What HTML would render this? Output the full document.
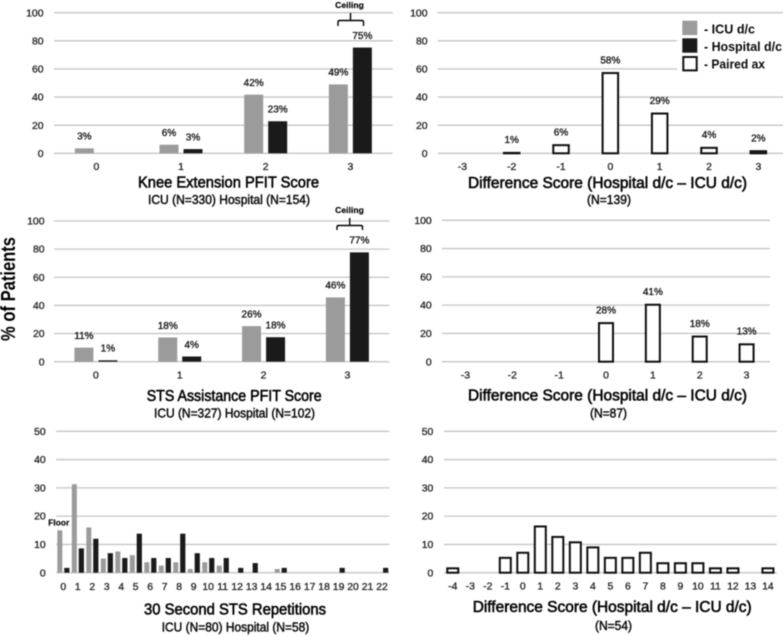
<!DOCTYPE html>
<html lang="en">
<head>
<meta charset="utf-8">
<title>PFIT score and STS distributions</title>
<style>
html,body{margin:0;padding:0;background:#fff;width:784px;height:636px;overflow:hidden}
svg{display:block;filter:blur(.45px)}
text{font-family:"Liberation Sans",sans-serif}
.title{font-size:16px;fill:#050505;stroke:#050505;stroke-width:.6px}
.sub{font-size:12.5px;fill:#0a0a0a;stroke:#0a0a0a;stroke-width:.45px}
.tick{font-size:10.4px;fill:#2a2a2a;stroke:#2a2a2a;stroke-width:.35px}
.val{font-size:10px;fill:#1a1a1a;stroke:#1a1a1a;stroke-width:.35px}
.note{font-size:8.6px;font-weight:bold;fill:#000;stroke:#000;stroke-width:.15px}
.leg{font-size:12.5px;font-weight:bold;fill:#0a0a0a}
</style>
</head>
<body>
<svg id="chart" xmlns="http://www.w3.org/2000/svg" width="784" height="636" viewBox="0 0 784 636">
  <rect width="784" height="636" fill="#fff"/>
  <g id="marks"></g>

  <text class="title" x="138" y="187.7" textLength="181" lengthAdjust="spacingAndGlyphs">Knee Extension PFIT Score</text>
  <text class="sub" x="148" y="204" textLength="162" lengthAdjust="spacingAndGlyphs">ICU (N=330) Hospital (N=154)</text>
  <text class="title" x="468" y="188" textLength="279" lengthAdjust="spacingAndGlyphs">Difference Score (Hospital d/c – ICU d/c)</text>
  <text class="sub" x="587" y="204" textLength="44" lengthAdjust="spacingAndGlyphs">(N=139)</text>

  <text class="title" x="146.7" y="401" textLength="175" lengthAdjust="spacingAndGlyphs">STS Assistance PFIT Score</text>
  <text class="sub" x="154" y="417.7" textLength="161" lengthAdjust="spacingAndGlyphs">ICU (N=327) Hospital (N=102)</text>
  <text class="title" x="468" y="400.7" textLength="279" lengthAdjust="spacingAndGlyphs">Difference Score (Hospital d/c – ICU d/c)</text>
  <text class="sub" x="590" y="417.7" textLength="37" lengthAdjust="spacingAndGlyphs">(N=87)</text>

  <text class="title" x="144" y="614.3" textLength="182" lengthAdjust="spacingAndGlyphs">30 Second STS Repetitions</text>
  <text class="sub" x="161.7" y="631.7" textLength="147.6" lengthAdjust="spacingAndGlyphs">ICU (N=80) Hospital (N=58)</text>
  <text class="title" x="472.7" y="612" textLength="279" lengthAdjust="spacingAndGlyphs">Difference Score (Hospital d/c – ICU d/c)</text>
  <text class="sub" x="595" y="630" textLength="37" lengthAdjust="spacingAndGlyphs">(N=54)</text>

  <text transform="translate(15,341) rotate(-90)" font-size="20" font-weight="bold" fill="#000" textLength="104" lengthAdjust="spacingAndGlyphs">% of Patients</text>

  <g>
    <text class="note" x="349.5" y="8" text-anchor="middle">Ceiling</text>
    <path d="M338 26V22Q338 20.5 340 20.5H361.5Q363.5 20.5 363.5 22V26M350.5 13V20.5" fill="none" stroke="#000" stroke-width="1.4"/>
  </g>
  <g>
    <text class="note" x="349.5" y="213" text-anchor="middle">Ceiling</text>
    <path d="M337 230V227Q337 225.5 339 225.5H360.5Q362.5 225.5 362.5 227V230M349.7 218V225.5" fill="none" stroke="#000" stroke-width="1.4"/>
  </g>
  <text class="note" x="48.3" y="525.7" textLength="21" lengthAdjust="spacingAndGlyphs">Floor</text>

  <g>
    <rect x="677" y="13.5" width="107" height="59" fill="#fff"/>
    <rect x="682.3" y="20.7" width="15" height="14.4" fill="#9b9b9b"/>
    <text class="leg" x="704" y="33.3" textLength="51" lengthAdjust="spacingAndGlyphs">- ICU d/c</text>
    <rect x="682.3" y="38.3" width="15" height="14.4" fill="#1a1a1a"/>
    <text class="leg" x="704" y="51" textLength="78" lengthAdjust="spacingAndGlyphs">- Hospital d/c</text>
    <rect x="683.3" y="57" width="13.4" height="13.4" fill="#fff" stroke="#111" stroke-width="2"/>
    <text class="leg" x="704" y="68.3" textLength="61" lengthAdjust="spacingAndGlyphs">- Paired ax</text>
  </g>
</svg>
<script>
/* ---------- chart data ---------- */
const pfitCategories = ["0", "1", "2", "3"];
const pctTicks = [0, 20, 40, 60, 80, 100];
const repTicks = [0, 10, 20, 30, 40, 50];

const kneeIcu = [3.5, 6.1, 41.7, 49];
const kneeHospital = [0, 3, 22.8, 75.2];
const kneeIcuLabels = ["3%", "6%", "42%", "49%"];
const kneeHospitalLabels = ["", "3%", "23%", "75%"];

const diffCategories = ["-3", "-2", "-1", "0", "1", "2", "3"];
const kneeDiff = [0, 1, 6.5, 57.8, 29, 4.6, 2.2];
const kneeDiffLabels = ["", "1%", "6%", "58%", "29%", "4%", "2%"];

const stsIcu = [10, 17.2, 25.3, 45.7];
const stsHospital = [1, 3.7, 17.4, 77.7];
const stsIcuLabels = ["11%", "18%", "26%", "46%"];
const stsHospitalLabels = ["1%", "4%", "18%", "77%"];

const stsDiff = [0, 0, 0, 28, 41, 18.5, 13];
const stsDiffLabels = ["", "", "", "28%", "41%", "18%", "13%"];

const repCategories = ["0","1","2","3","4","5","6","7","8","9","10","11","12","13","14","15","16","17","18","19","20","21","22"];
const repIcu = [15, 31.3, 16, 5, 7.5, 6.2, 3.7, 2.5, 3.7, 1.3, 3.7, 2.5, 0, 0, 0, 1.3, 0, 0, 0, 0, 0, 0, 0];
const repHospital = [1.7, 8.6, 12, 6.9, 5.2, 13.8, 5.2, 5.2, 13.8, 6.9, 5.2, 5.2, 1.7, 3.4, 0, 1.7, 0, 0, 0, 1.7, 0, 0, 1.7];

const repDiffCategories = ["-4","-3","-2","-1","0","1","2","3","4","5","6","7","8","9","10","11","12","13","14"];
const repDiff = [1.9, 0, 0, 5.6, 7.4, 16.7, 13, 11.1, 9.3, 5.6, 5.6, 7.4, 3.7, 3.7, 3.7, 1.9, 1.9, 0, 1.9];

/* ---------- drawing ---------- */
const NS = "http://www.w3.org/2000/svg";
const root = document.getElementById("marks");

function make(tag, attrs, parent) {
  const el = document.createElementNS(NS, tag);
  for (const k in attrs) el.setAttribute(k, attrs[k]);
  parent.appendChild(el);
  return el;
}

function drawPanel(name, box, categories, ticks, series) {
  const g = make("g", {}, root);
  
  

  const maxTick = ticks[ticks.length - 1];
  const yScale = v => box.y0 - (v / maxTick) * (box.y0 - box.yTop);
  const band = (box.x1 - box.x0) / categories.length;
  const xCenter = i => box.x0 + band * (i + 0.5);

  ticks.forEach(t => {
    const line = make("line", {x1: box.x0, x2: box.x1, y1: yScale(t), y2: yScale(t), stroke: "#c6c6c6", "stroke-width": 1.3}, g);
    
    
    const label = make("text", {x: box.tickRight, y: yScale(t) + 3.6, "text-anchor": "end", class: "tick"}, g);
    
    
    label.textContent = t;
  });

  categories.forEach((c, i) => {
    const label = make("text", {x: xCenter(i), y: box.tickY, "text-anchor": "middle", class: "tick"}, g);
    
    
    label.textContent = c;
  });

  series.forEach(s => {
    s.values.forEach((v, i) => {
      if (!v) return;
      const cx = xCenter(i) + s.offset;
      const top = yScale(v);
      if (s.outline) {
        const bar = make("rect", {x: cx - s.width / 2 + 1, y: top + 1, width: s.width - 2, height: Math.max(0, box.y0 - top - 1), fill: "#fff", stroke: "#0d0d0d", "stroke-width": 2}, g);
        
        
      } else {
        const bar = make("rect", {x: cx - s.width / 2, y: top, width: s.width, height: box.y0 - top, fill: s.fill}, g);
        
        
      }
      if (s.labels && s.labels[i]) {
        const label = make("text", {x: cx, y: top - 8.7, "text-anchor": "middle", class: "val"}, g);
        
        
        label.textContent = s.labels[i];
      }
    });
  });
}

const GRAY = "#9b9b9b";
const DARK = "#1a1a1a";

drawPanel("knee", {x0: 54, x1: 392.7, y0: 153.3, yTop: 12.7, tickRight: 43.5, tickY: 170}, pfitCategories, pctTicks, [
  {key: "icu", values: kneeIcu, labels: kneeIcuLabels, fill: GRAY, width: 19, offset: -12},
  {key: "hospital", values: kneeHospital, labels: kneeHospitalLabels, fill: DARK, width: 19, offset: 12}
]);

drawPanel("knee-difference", {x0: 437.7, x1: 783, y0: 153.3, yTop: 12.7, tickRight: 427.5, tickY: 170}, diffCategories, pctTicks, [
  {key: "paired", values: kneeDiff, labels: kneeDiffLabels, outline: true, width: 17.5, offset: 0}
]);

drawPanel("sts", {x0: 54, x1: 389.3, y0: 361.7, yTop: 221, tickRight: 44.5, tickY: 378.3}, pfitCategories, pctTicks, [
  {key: "icu", values: stsIcu, labels: stsIcuLabels, fill: GRAY, width: 19, offset: -12},
  {key: "hospital", values: stsHospital, labels: stsHospitalLabels, fill: DARK, width: 19, offset: 12}
]);

drawPanel("sts-difference", {x0: 442, x1: 770, y0: 361.7, yTop: 220.3, tickRight: 431.7, tickY: 378.3}, diffCategories, pctTicks, [
  {key: "paired", values: stsDiff, labels: stsDiffLabels, outline: true, width: 16, offset: 0}
]);

drawPanel("repetitions", {x0: 56, x1: 389.3, y0: 572.7, yTop: 431.3, tickRight: 45.7, tickY: 590}, repCategories, repTicks, [
  {key: "icu", values: repIcu, fill: GRAY, width: 5, offset: -3.4},
  {key: "hospital", values: repHospital, fill: DARK, width: 5.2, offset: 3.6}
]);

drawPanel("repetitions-difference", {x0: 444, x1: 776.7, y0: 572.7, yTop: 431.3, tickRight: 433.3, tickY: 589.3}, repDiffCategories, repTicks, [
  {key: "paired", values: repDiff, outline: true, width: 13, offset: 0}
]);
</script>
</body>
</html>
